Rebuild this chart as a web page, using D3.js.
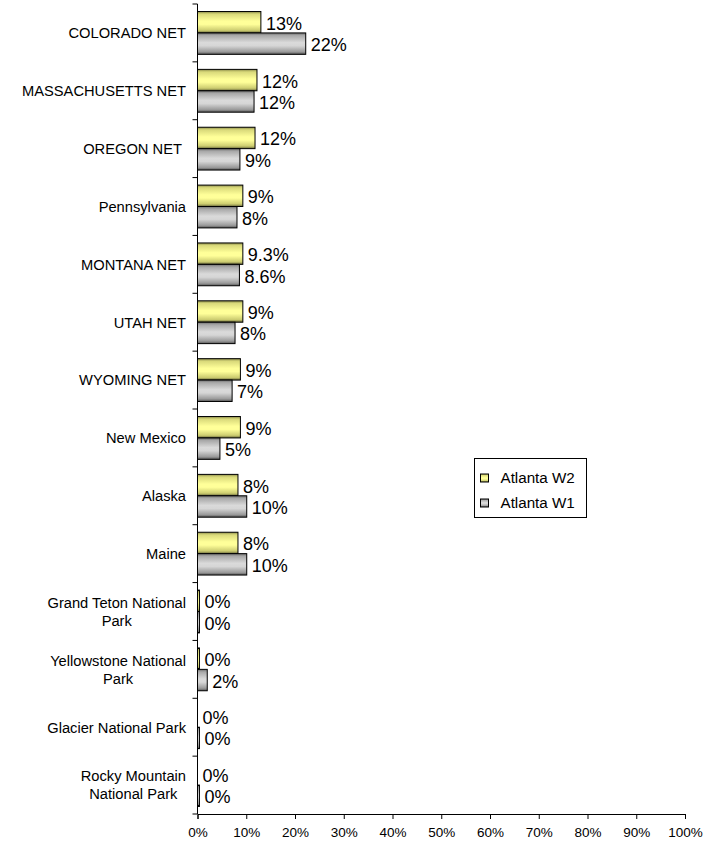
<!DOCTYPE html>
<html>
<head>
<meta charset="utf-8">
<script src="https://cdn.jsdelivr.net/npm/d3@7"></script>
<style>
  html, body { margin: 0; padding: 0; background: #fff; }
  svg { display: block; font-family: "Liberation Sans", Arial, sans-serif; }
</style>
</head>
<body>
<svg id="chart" width="704" height="844"></svg>
<script>
const categories = [
  ["COLORADO NET"],
  ["MASSACHUSETTS NET"],
  ["OREGON NET\u00a0"],
  ["Pennsylvania"],
  ["MONTANA NET"],
  ["UTAH NET"],
  ["WYOMING NET"],
  ["New Mexico"],
  ["Alaska"],
  ["Maine"],
  ["Grand Teton National", "Park"],
  ["Yellowstone National", "Park"],
  ["Glacier National Park"],
  ["Rocky Mountain", "National Park"]
];
const seriesNames = ["Atlanta W2", "Atlanta W1"];
const w2Values = [13.0, 12.2, 11.8, 9.3, 9.3, 9.3, 8.8, 8.8, 8.3, 8.3, 0.4, 0.4, 0.0, 0.0];
const w1Values = [22.2, 11.6, 8.7, 8.1, 8.6, 7.7, 7.1, 4.6, 10.1, 10.1, 0.4, 2.0, 0.4, 0.4];
const w2Labels = ["13%", "12%", "12%", "9%", "9.3%", "9%", "9%", "9%", "8%", "8%", "0%", "0%", "0%", "0%"];
const w1Labels = ["22%", "12%", "9%", "8%", "8.6%", "8%", "7%", "5%", "10%", "10%", "0%", "2%", "0%", "0%"];
const xTicks = [0, 10, 20, 30, 40, 50, 60, 70, 80, 90, 100];

const svg = d3.select("#chart");
const plotLeft = 197.5, plotRight = 685, plotTop = 4, plotBottom = 814;

const x = d3.scaleLinear().domain([0, 100]).range([plotLeft, plotRight]);
const catKeys = categories.map(c => c.join(" "));
const y0 = d3.scaleBand().domain(catKeys).range([plotTop, plotBottom]).paddingInner(0.26).paddingOuter(0.13);
const y1 = d3.scaleBand().domain(seriesNames).range([0, y0.bandwidth()]);

// gradients
const defs = svg.append("defs");
function grad(id, stops) {
  const g = defs.append("linearGradient").attr("id", id).attr("x1", 0).attr("y1", 0).attr("x2", 0).attr("y2", 1);
  stops.forEach(([o, c]) => g.append("stop").attr("offset", o).attr("stop-color", c));
}
grad("gY", [[0, "#8c8c4a"], [0.12, "#d9d97a"], [0.45, "#ffff99"], [0.6, "#ffff99"], [0.88, "#cccc70"], [1, "#66663a"]]);
grad("gG", [[0, "#6e6e6e"], [0.12, "#a8a8a8"], [0.45, "#dadada"], [0.6, "#d6d6d6"], [0.88, "#9a9a9a"], [1, "#555555"]]);
const fills = ["url(#gY)", "url(#gG)"];

const rows = catKeys.map((k, i) => ({ key: k, vals: [w2Values[i], w1Values[i]], labels: [w2Labels[i], w1Labels[i]] }));

// bars
const g = svg.append("g");
rows.forEach(r => {
  r.vals.forEach((v, s) => {
    const yy = y0(r.key) + y1(seriesNames[s]);
    if (v > 0) {
      g.append("rect")
        .attr("x", x(0)).attr("y", yy)
        .attr("width", Math.max(x(v) - x(0), 0.8)).attr("height", y1.bandwidth())
        .attr("fill", fills[s]).attr("stroke", "#000").attr("stroke-width", 1);
    }
    g.append("text")
      .attr("x", x(v) + 5).attr("y", yy + y1.bandwidth() / 2)
      .attr("dy", "0.42em").attr("font-size", 18).attr("fill", "#000")
      .text(r.labels[s]);
  });
});

// y axis line + ticks at boundaries
svg.append("line").attr("x1", x(0)).attr("x2", x(0)).attr("y1", plotTop).attr("y2", plotBottom)
  .attr("stroke", "#000").attr("stroke-width", 1);
const step = y0.step();
for (let i = 0; i <= categories.length; i++) {
  const yy = plotTop + i * step;
  svg.append("line").attr("x1", x(0) - 5).attr("x2", x(0)).attr("y1", yy).attr("y2", yy)
    .attr("stroke", "#000").attr("stroke-width", 1);
}

// category labels
const catFont = 14.7;
categories.forEach((lines, i) => {
  const cy = y0(catKeys[i]) + y0.bandwidth() / 2;
  const lh = 18;
  const tmp = svg.append("text").attr("font-size", catFont);
  const widths = lines.map(l => { tmp.text(l); return tmp.node().getComputedTextLength(); });
  tmp.remove();
  const maxW = d3.max(widths);
  const rightEdge = 186;
  const t = svg.append("text").attr("font-size", catFont).attr("fill", "#000");
  lines.forEach((l, j) => {
    t.append("tspan")
      .attr("x", rightEdge - maxW / 2)
      .attr("text-anchor", "middle")
      .attr("y", cy + (j - (lines.length - 1) / 2) * lh)
      .attr("dy", "0.36em")
      .text(l);
  });
});

// x axis
const xAxis = d3.axisBottom(x).tickValues(xTicks).tickSize(5).tickFormat(d => d + "%");
const ax = svg.append("g").attr("transform", `translate(0,${plotBottom})`).call(xAxis);
ax.select(".domain").attr("stroke", "#000");
ax.selectAll(".tick line").attr("stroke", "#000");
ax.selectAll(".tick text").attr("font-size", 13.5).attr("fill", "#000").attr("font-family", "Liberation Sans, Arial, sans-serif").attr("dy", "1.1em");

// legend
const lg = svg.append("g").attr("transform", "translate(474.5,458.5)");
lg.append("rect").attr("width", 112).attr("height", 59).attr("fill", "#fff").attr("stroke", "#000").attr("stroke-width", 1);
seriesNames.forEach((n, i) => {
  const yy = 19.5 + i * 25;
  lg.append("rect").attr("x", 6).attr("y", yy - 4).attr("width", 8).attr("height", 8)
    .attr("fill", fills[i]).attr("stroke", "#000").attr("stroke-width", 1);
  lg.append("text").attr("x", 26).attr("y", yy).attr("dy", "0.36em").attr("font-size", 15.2).attr("fill", "#000").text(n);
});
</script>
</body>
</html>
